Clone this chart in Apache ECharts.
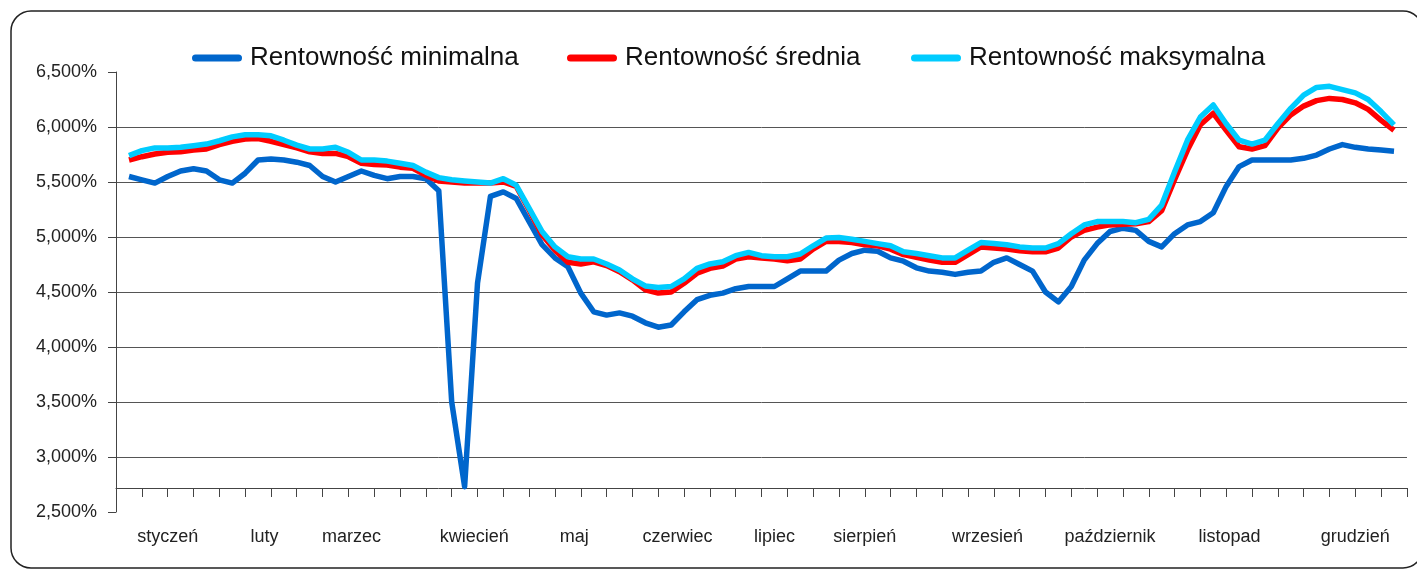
<!DOCTYPE html>
<html lang="pl">
  <head>
    <meta charset="UTF-8" />
    <title>Rentowność</title>
    <script src="https://cdn.jsdelivr.net/npm/echarts@6.0.0/dist/echarts.min.js"></script>
    <style>
      body {
        margin: 0;
        padding: 0;
        background: #fff;
      }
      #main {
        width: 1417px;
        height: 569px;
      }
    </style>
  </head>
  <body>
    <div id="main"></div>

    <script>
      // Series names (legend)
      const seriesNames = [
        "Rentowność minimalna",
        "Rentowność średnia",
        "Rentowność maksymalna",
      ];

      // Month labels and their position on the tick scale (0..50 week slots)
      const months = [
        "styczeń", "luty", "marzec", "kwiecień", "maj", "czerwiec",
        "lipiec", "sierpień", "wrzesień", "październik", "listopad", "grudzień",
      ];
      const monthPos = [2, 5.75, 9.125, 13.875, 17.75, 21.75, 25.5, 29, 33.75, 38.5, 43.125, 48];

      // 50 week slots on the category axis (ticks only)
      const weekSlots = [];
      for (let w = 1; w <= 50; w++) weekSlots.push("t" + w);

      // Yield values in %, 99 readings across the year
      const minYield = [
        5.55, 5.52, 5.49, 5.55, 5.6, 5.62, 5.6, 5.52, 5.49, 5.58,
        5.7, 5.71, 5.7, 5.68, 5.65, 5.55, 5.5, 5.55, 5.6, 5.56,
        5.53, 5.55, 5.55, 5.53, 5.42, 3.5, 2.73, 4.58, 5.37, 5.41,
        5.35, 5.14, 4.93, 4.81, 4.73, 4.49, 4.32, 4.29, 4.31, 4.28,
        4.22, 4.18, 4.2, 4.32, 4.43, 4.47, 4.49, 4.53, 4.55, 4.55,
        4.55, 4.62, 4.69, 4.69, 4.69, 4.79, 4.85, 4.88, 4.87, 4.81,
        4.78, 4.72, 4.69, 4.68, 4.66, 4.68, 4.69, 4.77, 4.81, 4.75,
        4.69, 4.5, 4.41, 4.55, 4.79, 4.94, 5.05, 5.08, 5.06, 4.96,
        4.91, 5.03, 5.11, 5.14, 5.22, 5.46, 5.64, 5.7, 5.7, 5.7,
        5.7, 5.715, 5.745, 5.8, 5.84, 5.815, 5.8, 5.79, 5.78,
      ];
      const avgYield = [
        5.7, 5.73, 5.755, 5.77, 5.775, 5.79, 5.8, 5.84, 5.87, 5.89,
        5.895, 5.87, 5.84, 5.81, 5.775, 5.76, 5.76, 5.73, 5.67, 5.66,
        5.655, 5.635, 5.625, 5.56, 5.51, 5.5, 5.49, 5.49, 5.49, 5.5,
        5.46, 5.245, 5.02, 4.88, 4.77, 4.755, 4.775, 4.74, 4.685, 4.61,
        4.52, 4.49, 4.5, 4.58, 4.67, 4.715, 4.735, 4.8, 4.82, 4.81,
        4.8, 4.785, 4.8, 4.89, 4.96, 4.96, 4.95, 4.93, 4.92, 4.89,
        4.84, 4.815, 4.79, 4.77, 4.77, 4.84, 4.91, 4.9, 4.89, 4.875,
        4.865, 4.865, 4.9, 5.0, 5.06, 5.09, 5.11, 5.115, 5.12, 5.14,
        5.24, 5.52, 5.79, 6.02, 6.125, 5.97, 5.82, 5.8, 5.83, 5.99,
        6.11, 6.19, 6.24, 6.26, 6.25, 6.22, 6.16, 6.06, 5.97,
      ];
      const maxYield = [
        5.74, 5.785, 5.81, 5.81, 5.815, 5.83, 5.845, 5.875, 5.91, 5.93,
        5.93, 5.92, 5.88, 5.835, 5.8, 5.8, 5.815, 5.77, 5.7, 5.7,
        5.69, 5.67, 5.65, 5.59, 5.54, 5.52, 5.51, 5.5, 5.49, 5.53,
        5.47, 5.26, 5.05, 4.91, 4.82, 4.8, 4.8, 4.755, 4.7, 4.62,
        4.555, 4.54, 4.55, 4.62, 4.715, 4.755, 4.775, 4.83, 4.86, 4.83,
        4.82, 4.82, 4.845, 4.92, 4.99, 4.995, 4.98, 4.96, 4.94, 4.92,
        4.865, 4.85, 4.83, 4.81, 4.81, 4.88, 4.95, 4.94, 4.93, 4.91,
        4.9, 4.9, 4.94, 5.03, 5.11, 5.14, 5.14, 5.14, 5.13, 5.16,
        5.29, 5.59, 5.88, 6.09, 6.2, 6.03, 5.88, 5.845, 5.88, 6.03,
        6.17, 6.29, 6.36, 6.37, 6.34, 6.31, 6.25, 6.14, 6.02,
      ];

      const colors = ["#0066cc", "#ff0000", "#00ccff"];
      const font = "Liberation Sans, Arial, sans-serif";
      // rounded bar used as legend marker
      const legendIcon = "path://M3.5,0h43a3.5,3.5 0 0 1 0,7h-43a3.5,3.5 0 0 1 0,-7z";

      const myChart = echarts.init(document.getElementById("main"));

      function makeLegend(i, left) {
        return {
          data: [seriesNames[i]],
          left: left,
          top: 40,
          icon: legendIcon,
          itemWidth: 50,
          itemHeight: 7,
          textStyle: {
            fontFamily: font,
            fontSize: 26,
            color: "#111",
            padding: [0, 0, 0, 3],
          },
        };
      }

      const option = {
        animation: false,
        backgroundColor: "#fff",
        graphic: [
          {
            type: "rect",
            shape: { x: 11, y: 11, width: 1412, height: 557, r: 20 },
            style: { fill: "none", stroke: "#222", lineWidth: 1.5 },
            z: -1,
          },
        ],
        legend: [makeLegend(0, 187), makeLegend(1, 562), makeLegend(2, 906)],
        grid: [
          // data grid: first and last reading sit half a slot inside the frame
          { left: 129, right: 23, top: 72, height: 440 },
          // frame grid: y axis, gridlines, month labels
          { left: 116, right: 10, top: 72, height: 440 },
          // category axis line with ticks, crossing at ~2.7%
          { left: 116, right: 10, top: 72, height: 416 },
        ],
        xAxis: [
          { type: "category", gridIndex: 0, boundaryGap: false, show: false },
          {
            type: "value",
            gridIndex: 1,
            min: 0,
            max: 50,
            interval: 0.125,
            axisLine: { show: false },
            axisTick: { show: false },
            splitLine: { show: false },
            axisLabel: {
              margin: 16,
              fontFamily: font,
              fontSize: 18,
              color: "#222",
              formatter: function (v) {
                const i = monthPos.indexOf(v);
                return i >= 0 ? months[i] : "";
              },
            },
          },
          {
            type: "category",
            gridIndex: 2,
            data: weekSlots,
            boundaryGap: true,
            axisLine: { show: true, onZero: false, lineStyle: { color: "#444", width: 1 } },
            axisTick: {
              show: true,
              interval: 0,
              inside: false,
              length: 9,
              lineStyle: { color: "#444", width: 1 },
            },
            axisLabel: { show: false, interval: 0 },
            splitLine: { show: false },
          },
        ],
        yAxis: [
          { type: "value", gridIndex: 0, min: 2.5, max: 6.5, show: false },
          {
            type: "value",
            gridIndex: 1,
            min: 2.5,
            max: 6.5,
            interval: 0.5,
            axisLine: { show: true, lineStyle: { color: "#444", width: 1 } },
            axisTick: { show: true, length: 8, lineStyle: { color: "#444" } },
            axisLabel: {
              margin: 19,
              fontFamily: font,
              fontSize: 18,
              color: "#222",
              formatter: function (v) {
                return v.toFixed(3).replace(".", ",") + "%";
              },
            },
            splitLine: {
              show: true,
              showMinLine: false,
              showMaxLine: false,
              lineStyle: { color: "#555", width: 1 },
            },
          },
          { type: "value", gridIndex: 2, min: 0, max: 1, show: false },
        ],
        series: [minYield, avgYield, maxYield].map(function (vals, i) {
          return {
            name: seriesNames[i],
            type: "line",
            xAxisIndex: 0,
            yAxisIndex: 0,
            data: vals,
            symbol: "none",
            color: colors[i],
            lineStyle: { width: 5.5, color: colors[i], join: "round" },
          };
        }),
      };

      myChart.setOption(option);
    </script>
  </body>
</html>
